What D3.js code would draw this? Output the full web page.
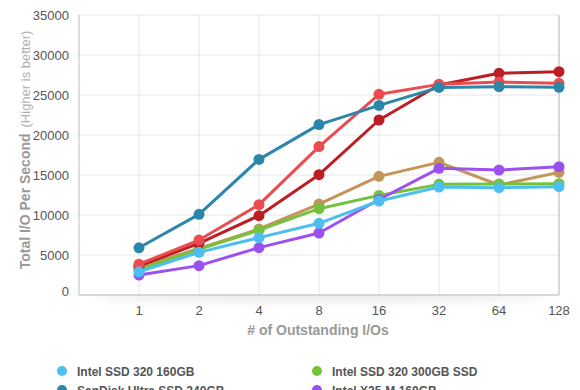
<!DOCTYPE html>
<meta charset="utf-8">
<script src="https://d3js.org/d3.v7.min.js"></script>
<style>
  body { margin: 0; background: #fff; }
  text { font-family: "Liberation Sans", Arial, sans-serif; }
</style>
<div id="chart"></div>
<script>
  // data
  var categories = ["1", "2", "4", "8", "16", "32", "64", "128"];
  var yTicks = [0, 5000, 10000, 15000, 20000, 25000, 30000, 35000];
  var seriesNames = ["Intel SSD 320 160GB", "Intel SSD 320 300GB SSD", "SanDisk Ultra SSD 240GB",
                     "Intel X25-M 160GB", "OCZ Vertex 3 240GB", "Corsair Force GT 240GB", "Crucial m4 256GB"];
  var seriesColors = ["#4dbfee", "#74c23b", "#2b86a9", "#9d50f0", "#ea4c50", "#bb1f24", "#c2965a"];
  var intel160  = [2900, 5330, 7170, 8960, 11750, 13500, 13420, 13540];
  var intel300  = [3200, 5700, 8100, 10790, 12450, 13830, 13875, 13920];
  var sandisk   = [5900, 10080, 16950, 21300, 23700, 25950, 26040, 25960];
  var x25m      = [2500, 3670, 5920, 7750, 11940, 15830, 15625, 16040];
  var vertex3   = [3850, 6870, 11290, 18550, 25090, 26330, 26620, 26460];
  var forceGT   = [3600, 6460, 9920, 15040, 21875, 26250, 27710, 27920];
  var m4        = [3450, 5830, 8250, 11370, 14830, 16580, 13750, 15330];
  var seriesValues = [intel160, intel300, sandisk, x25m, vertex3, forceGT, m4];
  var drawOrder = [6, 1, 5, 4, 3, 2, 0];

  var W = 580, H = 390;
  var plot = {left: 79, right: 559, top: 15, bottom: 295};

  var svg = d3.select("#chart").append("svg")
      .attr("width", W)
      .attr("height", H);

  var x = d3.scalePoint()
      .domain(categories)
      .range([plot.left + 60, plot.right]);

  var y = d3.scaleLinear()
      .domain([0, 35000])
      .range([plot.bottom, plot.top]);

  // soft shadow under plot
  var defs = svg.append("defs");
  defs.append("filter").attr("id", "blur")
      .attr("x", "-20%").attr("y", "-200%").attr("width", "140%").attr("height", "500%")
    .append("feGaussianBlur").attr("stdDeviation", 4);
  svg.append("ellipse")
      .attr("cx", (plot.left + plot.right) / 2)
      .attr("cy", plot.bottom + 2)
      .attr("rx", 230).attr("ry", 6)
      .attr("fill", "#000").attr("opacity", 0.07)
      .attr("filter", "url(#blur)");

  svg.append("rect")
      .attr("x", plot.left).attr("y", plot.top)
      .attr("width", plot.right - plot.left)
      .attr("height", plot.bottom - plot.top)
      .attr("fill", "#fff");

  // grid
  svg.append("g")
    .selectAll("line")
    .data(yTicks)
    .enter().append("line")
      .attr("x1", plot.left).attr("x2", plot.right)
      .attr("y1", function(d) { return y(d); })
      .attr("y2", function(d) { return y(d); })
      .attr("stroke", "#e6e6e6").attr("stroke-width", 1);

  svg.append("g")
    .selectAll("line")
    .data(categories)
    .enter().append("line")
      .attr("x1", function(d) { return x(d); })
      .attr("x2", function(d) { return x(d); })
      .attr("y1", plot.top).attr("y2", plot.bottom)
      .attr("stroke", "#e6e6e6").attr("stroke-width", 1);

  // border
  svg.append("path")
      .attr("d", "M" + plot.left + "," + plot.top + "V" + plot.bottom + "H" + plot.right + "V" + plot.top)
      .attr("fill", "none").attr("stroke", "#bdbdbd").attr("stroke-width", 1);

  // y tick labels
  svg.append("g")
    .selectAll("text")
    .data(yTicks)
    .enter().append("text")
      .attr("x", 69)
      .attr("y", function(d) { return y(d) + (d === 0 ? 0.5 : 4.5); })
      .attr("text-anchor", "end")
      .attr("fill", "#555")
      .style("font-size", "13px")
      .text(function(d) { return d; });

  // x tick labels
  svg.append("g")
    .selectAll("text")
    .data(categories)
    .enter().append("text")
      .attr("x", function(d) { return x(d); })
      .attr("y", 315)
      .attr("text-anchor", "middle")
      .attr("fill", "#555")
      .style("font-size", "13px")
      .text(function(d) { return d; });

  // axis titles
  svg.append("text")
      .attr("x", (plot.left + plot.right) / 2 - 1)
      .attr("y", 335)
      .attr("text-anchor", "middle")
      .attr("fill", "#999")
      .style("font-size", "14px")
      .style("font-weight", "bold")
      .text("# of Outstanding I/Os");

  var yTitle = svg.append("text")
      .attr("transform", "translate(30,150) rotate(-90)")
      .attr("text-anchor", "middle")
      .attr("fill", "#999")
      .style("font-size", "14px")
      .style("font-weight", "bold");
  yTitle.append("tspan").text("Total I/O Per Second");
  yTitle.append("tspan")
      .style("font-size", "13px")
      .style("font-weight", "normal")
      .attr("fill", "#b0b0b0")
      .attr("dx", 6)
      .text("(Higher is better)");

  // lines and markers
  var line = d3.line()
      .x(function(d, i) { return x(categories[i]); })
      .y(function(d) { return y(d); });

  var series = svg.append("g")
    .selectAll("g")
    .data(drawOrder)
    .enter().append("g");

  series.append("path")
      .attr("d", function(k) { return line(seriesValues[k]); })
      .attr("fill", "none")
      .attr("stroke", function(k) { return seriesColors[k]; })
      .attr("stroke-width", 3)
      .attr("stroke-linejoin", "round");

  series.selectAll("circle")
    .data(function(k) { return seriesValues[k].map(function(v, i) { return {k: k, v: v, i: i}; }); })
    .enter().append("circle")
      .attr("cx", function(d) { return x(categories[d.i]); })
      .attr("cy", function(d) { return y(d.v); })
      .attr("r", 5.5)
      .attr("fill", function(d) { return seriesColors[d.k]; });

  // legend, two columns
  var legend = svg.append("g")
    .selectAll("g")
    .data(seriesNames)
    .enter().append("g")
      .attr("transform", function(d, i) {
        return "translate(" + (i % 2 ? 317 : 62) + "," + (371 + Math.floor(i / 2) * 19) + ")";
      });

  legend.append("circle")
      .attr("r", 5)
      .attr("fill", function(d, i) { return seriesColors[i]; });

  legend.append("text")
      .attr("x", 15)
      .attr("y", 4.5)
      .attr("fill", "#555")
      .style("font-size", "12px")
      .style("font-weight", "bold")
      .text(function(d) { return d; });
</script>
